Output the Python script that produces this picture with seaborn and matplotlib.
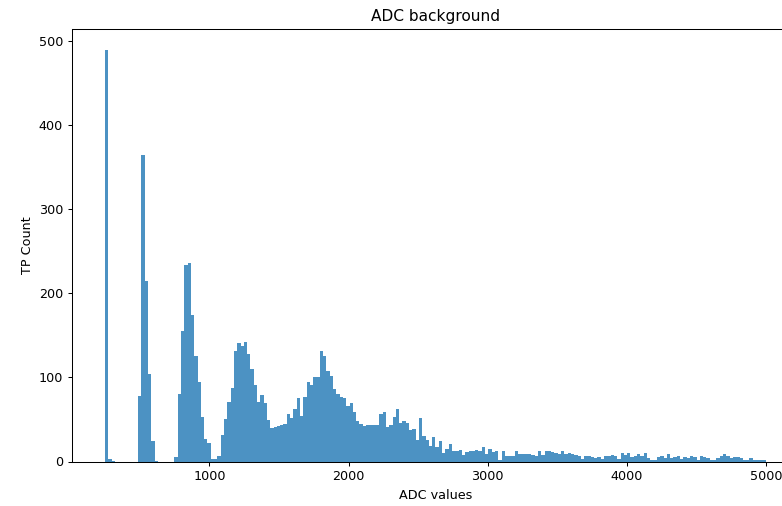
import numpy as np
import pandas as pd
import matplotlib
matplotlib.use("Agg")
import matplotlib.pyplot as plt
import seaborn as sns

# Histogram: 200 bins between 250 and 5000 ADC
adc_min = 250
adc_max = 5000
n_bins = 200
counts = [
    490, 3, 1, 0, 0, 0, 0, 0, 0, 0,
    78, 365, 215, 104, 24, 1, 0, 0, 0, 0,
    0, 5, 80, 155, 234, 236, 174, 125, 94, 53,
    27, 22, 3, 3, 6, 31, 51, 71, 88, 131,
    141, 137, 142, 128, 110, 91, 71, 79, 70, 49,
    40, 41, 42, 44, 45, 56, 52, 62, 75, 54,
    77, 94, 91, 100, 100, 131, 126, 108, 102, 86,
    80, 77, 75, 66, 70, 59, 48, 45, 42, 44,
    44, 43, 43, 57, 59, 41, 43, 53, 63, 46,
    48, 46, 38, 39, 26, 52, 30, 26, 18, 29,
    17, 24, 10, 15, 21, 12, 12, 14, 8, 11,
    12, 13, 14, 12, 17, 9, 15, 11, 12, 2,
    12, 7, 7, 6, 12, 9, 9, 9, 9, 8,
    7, 12, 8, 12, 12, 11, 10, 9, 12, 9,
    10, 9, 8, 7, 3, 6, 7, 5, 4, 5,
    3, 7, 7, 8, 7, 3, 10, 8, 10, 5,
    7, 9, 6, 10, 4, 2, 2, 5, 6, 4,
    9, 4, 5, 6, 3, 5, 4, 7, 5, 2,
    6, 5, 4, 2, 2, 4, 6, 9, 6, 4,
    5, 5, 4, 2, 2, 4, 2, 2, 2, 2,
]
title = "ADC background"
xlabel = "ADC values"
ylabel = "TP Count"

edges = np.linspace(adc_min, adc_max, n_bins + 1)
centers = (edges[:-1] + edges[1:]) / 2
df = pd.DataFrame({"adc": centers, "count": counts})

fig = plt.figure(figsize=(8.5, 5.5), dpi=92)
W, H = 782, 506
ax = fig.add_axes([72 / W, 44.5 / H, 727 / W, 432.5 / H])
sns.histplot(data=df, x="adc", weights="count", bins=n_bins,
             binrange=(adc_min, adc_max), ax=ax,
             color="#1f77b4", alpha=0.8, linewidth=0)
ax.set_title(title)
ax.set_xlabel(xlabel)
ax.set_ylabel(ylabel)
fig.savefig("out.png", dpi=92)
